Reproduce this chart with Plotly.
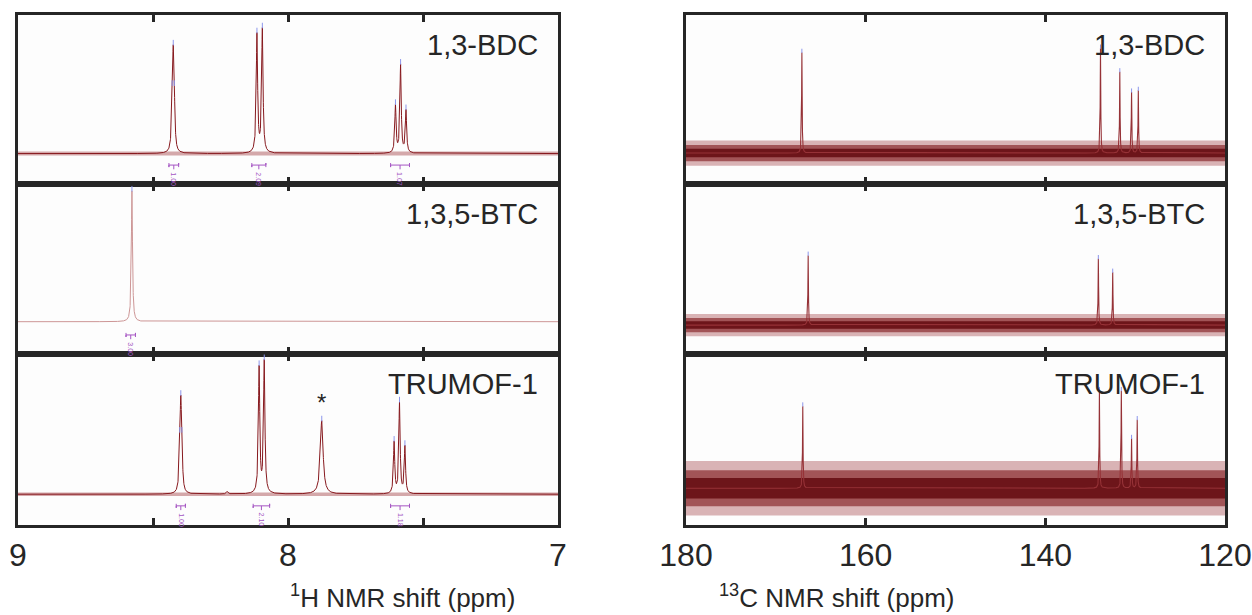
import numpy as np
import plotly.graph_objects as go

# ---------------- data ----------------
panel_labels = ["1,3-BDC", "1,3,5-BTC", "TRUMOF-1"]

# 1H spectra: peak positions (ppm), heights above baseline (fraction of panel), HWHM (ppm)
h_bdc_ppm = [8.429, 8.425, 8.421, 8.115, 8.095, 7.602, 7.583, 7.563]
h_bdc_amp = [0.20, 0.50, 0.20, 0.70, 0.73, 0.28, 0.52, 0.25]
h_bdc_hw = [0.003, 0.003, 0.003, 0.003, 0.003, 0.0028, 0.0028, 0.0028]
h_bdc_base = 0.18

h_btc_ppm = [8.578]
h_btc_amp = [0.77]
h_btc_hw = [0.0025]
h_btc_base = 0.19

h_tru_ppm = [8.401, 8.397, 8.393, 8.225, 8.107, 8.088, 7.875, 7.607, 7.587, 7.567]
h_tru_amp = [0.18, 0.45, 0.18, 0.015, 0.735, 0.77, 0.43, 0.30, 0.53, 0.275]
h_tru_hw = [0.003, 0.003, 0.003, 0.004, 0.003, 0.003, 0.006, 0.0028, 0.0028, 0.0028]
h_tru_base = 0.18

# 13C spectra
c_bdc_ppm = [167.1, 133.86, 131.71, 130.4, 129.65]
c_bdc_amp = [0.595, 0.62, 0.48, 0.36, 0.37]
c_bdc_base = 0.183

c_btc_ppm = [166.4, 134.1, 132.5]
c_btc_amp = [0.41, 0.39, 0.31]
c_btc_base = 0.17

c_tru_ppm = [167.0, 133.98, 131.54, 130.4, 129.77]
c_tru_amp = [0.48, 0.57, 0.57, 0.29, 0.40]
c_tru_base = 0.215

# baseline noise band half-widths (outer, mid, core), fraction of panel height
h_noise = [0.012, 0.0, 0.010]
c_noise = [
    [0.075, 0.048, 0.025],
    [0.065, 0.042, 0.022],
    [0.16, 0.105, 0.06],
]

# integrations: bracket start/end (ppm) and values
int_bdc_start = [8.441, 8.134, 7.620]
int_bdc_end = [8.405, 8.082, 7.550]
int_bdc_val = ["1.00", "2.09", "1.07"]
int_btc_start = [8.600]
int_btc_end = [8.565]
int_btc_val = ["3.00"]
int_tru_start = [8.414, 8.129, 7.620]
int_tru_end = [8.380, 8.068, 7.550]
int_tru_val = ["1.00", "2.10", "1.18"]

star_ppm = 7.875

h_ticks = [9, 8, 7]
c_ticks = [180, 160, 140, 120]

# ---------------- styling ----------------
FONT = "Liberation Sans, Arial, Helvetica, sans-serif"
DARK = "#262626"
RED = "rgb(135,25,30)"
RED_LIGHT = "rgb(205,150,150)"
PURPLE = "rgb(165,85,195)"
BLUE = "rgb(140,150,235)"

W, H = 1252, 615
xdom = [[18 / W, 558 / W], [686 / W, 1225 / W]]
ytops = [15, 184, 354, 525]
ydom = [[1 - ytops[r + 1] / H, 1 - ytops[r] / H] for r in range(3)]

fig = go.Figure()


def lorentz_sum(x, ppm, amp, hw):
    y = np.zeros_like(x)
    for p, a, w in zip(ppm, amp, hw):
        y += a * w * w / ((x - p) ** 2 + w * w)
    return y


def axis_names(i):
    n = "" if i == 0 else str(i + 1)
    return "x" + n, "y" + n


def band(xr, base, half, color, xa, ya):
    fig.add_trace(go.Scatter(x=xr, y=[base + half] * 2, mode="lines", line=dict(width=0),
                             xaxis=xa, yaxis=ya, hoverinfo="skip", showlegend=False))
    fig.add_trace(go.Scatter(x=xr, y=[base - half] * 2, mode="lines", fill="tonexty",
                             fillcolor=color, line=dict(width=0),
                             xaxis=xa, yaxis=ya, hoverinfo="skip", showlegend=False))


h_sets = [
    (h_bdc_ppm, h_bdc_amp, h_bdc_hw, h_bdc_base, RED),
    (h_btc_ppm, h_btc_amp, h_btc_hw, h_btc_base, RED_LIGHT),
    (h_tru_ppm, h_tru_amp, h_tru_hw, h_tru_base, RED),
]
c_sets = [
    (c_bdc_ppm, c_bdc_amp, c_bdc_base),
    (c_btc_ppm, c_btc_amp, c_btc_base),
    (c_tru_ppm, c_tru_amp, c_tru_base),
]
ints = [
    (int_bdc_start, int_bdc_end, int_bdc_val),
    (int_btc_start, int_btc_end, int_btc_val),
    (int_tru_start, int_tru_end, int_tru_val),
]

annotations = []

for r in range(3):
    # ---- 1H panel ----
    i = r
    xa, ya = axis_names(i)
    ppm, amp, hw, base, col = h_sets[r]
    x = np.sort(np.concatenate([np.linspace(7, 9, 6001), np.array(ppm)]))
    y = base + lorentz_sum(x, ppm, amp, hw)
    if h_noise[r] > 0:
        band([9, 7], base, h_noise[r], "rgba(150,40,45,0.40)", xa, ya)
    fig.add_trace(go.Scatter(x=x, y=y, mode="lines", line=dict(color=col, width=1.0),
                             xaxis=xa, yaxis=ya, hoverinfo="skip", showlegend=False))
    ptop = base + lorentz_sum(np.array(ppm, dtype=float), ppm, amp, hw)
    keep = [k for k in range(len(ppm)) if amp[k] > 0.1]
    fig.add_trace(go.Scatter(x=[ppm[k] for k in keep], y=[ptop[k] + 0.012 for k in keep], mode="markers",
                             marker=dict(symbol="line-ns", size=4, line=dict(width=1, color=BLUE)),
                             xaxis=xa, yaxis=ya, hoverinfo="skip", showlegend=False))
    # integrations
    s_list, e_list, v_list = ints[r]
    yb = 0.112
    for s, e, v in zip(s_list, e_list, v_list):
        m = (s + e) / 2
        fig.add_trace(go.Scatter(x=[s, s, s, e, e, e, None, m, m],
                                 y=[yb + 0.012, yb - 0.012, yb, yb, yb + 0.012, yb - 0.012, None, yb, yb - 0.025],
                                 mode="lines", line=dict(color=PURPLE, width=1),
                                 xaxis=xa, yaxis=ya, hoverinfo="skip", showlegend=False))
        annotations.append(dict(x=m, y=yb - 0.03, xref=xa, yref=ya, text=v, showarrow=False,
                                textangle=90, yanchor="top", font=dict(size=7, color=PURPLE, family=FONT)))
    annotations.append(dict(x=0.967, y=0.825, xref=xa + " domain", yref=ya + " domain",
                            text=panel_labels[r], showarrow=False, xanchor="right", yanchor="middle",
                            font=dict(size=29, color=DARK, family=FONT)))
    if r == 2:
        annotations.append(dict(x=star_ppm, y=0.715, xref=xa, yref=ya, text="*", showarrow=False,
                                yanchor="middle", font=dict(size=24, color=DARK, family=FONT)))

    # ---- 13C panel ----
    i = r + 3
    xa, ya = axis_names(i)
    ppm, amp, base = c_sets[r]
    hw = [0.035] * len(ppm)
    x = np.sort(np.concatenate([np.linspace(120, 180, 6001), np.array(ppm)]))
    y = base + lorentz_sum(x, ppm, amp, hw)
    for half, colr in zip(c_noise[r], ["rgba(150,40,45,0.35)", "rgba(125,20,25,0.6)", "rgba(100,10,15,0.85)"]):
        band([180, 120], base, half, colr, xa, ya)
    fig.add_trace(go.Scatter(x=x, y=y, mode="lines", line=dict(color="rgb(150,50,55)", width=1.1),
                             xaxis=xa, yaxis=ya, hoverinfo="skip", showlegend=False))
    fig.add_trace(go.Scatter(x=ppm, y=[base + a + 0.01 for a in amp], mode="markers",
                             marker=dict(symbol="line-ns", size=3, line=dict(width=1, color=BLUE)),
                             xaxis=xa, yaxis=ya, hoverinfo="skip", showlegend=False))
    annotations.append(dict(x=0.967, y=0.825, xref=xa + " domain", yref=ya + " domain",
                            text=panel_labels[r], showarrow=False, xanchor="right", yanchor="middle",
                            font=dict(size=29, color=DARK, family=FONT)))

layout = dict(
    width=W, height=H, margin=dict(l=0, r=0, t=0, b=0, autoexpand=False),
    paper_bgcolor="white", plot_bgcolor="#fdfdfd",
    font=dict(family=FONT, color=DARK),
    showlegend=False,
)

for c in range(2):
    for r in range(3):
        i = c * 3 + r
        n = "" if i == 0 else str(i + 1)
        if c == 0:
            rng, tv, minor_d = [9, 7], h_ticks, 0.5
        else:
            rng, tv, minor_d = [180, 120], c_ticks, 20
        layout["xaxis" + n] = dict(
            domain=xdom[c], anchor="y" + n, range=rng, tickmode="array", tickvals=tv,
            ticktext=[str(t) for t in tv], showticklabels=(r == 2), automargin=False,
            tickfont=dict(size=32, color=DARK, family=FONT),
            showline=True, mirror="ticks", linecolor=DARK, linewidth=3,
            ticks="inside", ticklen=7, tickwidth=3, tickcolor=DARK,
            minor=dict(dtick=minor_d, tick0=tv[0], ticks="inside", ticklen=7, tickwidth=3, tickcolor=DARK),
            showgrid=False, zeroline=False, fixedrange=True,
        )
        layout["yaxis" + n] = dict(
            domain=ydom[r], anchor="x" + n, range=[0, 1], showticklabels=False, ticks="",
            showline=True, mirror=True, linecolor=DARK, linewidth=3, automargin=False,
            showgrid=False, zeroline=False, fixedrange=True,
        )

annotations.append(dict(x=(18 + 558) / 2 / W, y=1 - 596 / H, xref="paper", yref="paper",
                        text="<sup>1</sup>H NMR shift (ppm)", showarrow=False, yanchor="middle",
                        font=dict(size=26, color=DARK, family=FONT)))
annotations.append(dict(x=(686 + 1225) / 2 / W, y=1 - 596 / H, xref="paper", yref="paper",
                        text="<sup>13</sup>C NMR shift (ppm)", showarrow=False, yanchor="middle",
                        font=dict(size=26, color=DARK, family=FONT)))
layout["annotations"] = annotations

fig.update_layout(**layout)
fig.write_html("out.html")
